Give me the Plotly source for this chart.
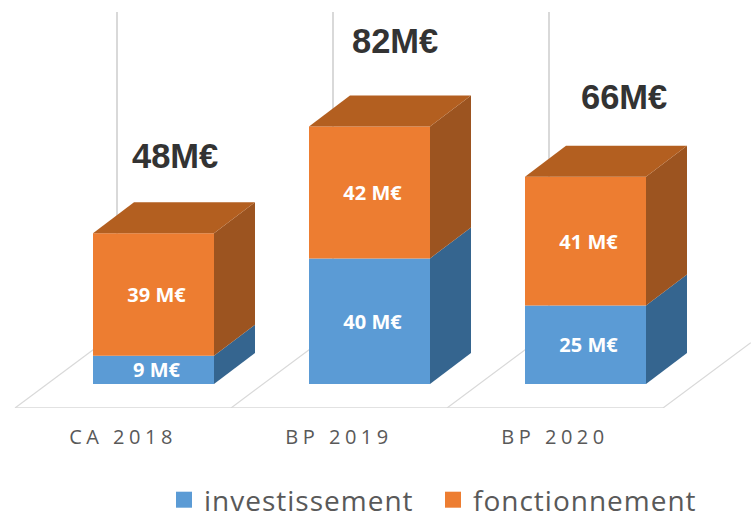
import plotly.graph_objects as go

categories = ["CA 2018", "BP 2019", "BP 2020"]
investissement = [9, 40, 25]
fonctionnement = [39, 42, 41]
totals = [48, 82, 66]

BLUE, BLUE_SIDE = "#5B9BD5", "#35658F"
ORANGE, ORANGE_SIDE, ORANGE_TOP = "#ED7D31", "#9C5420", "#B35F20"
GRID = "#D9D9D9"
TEXT = "#595959"

UX, UY = 216.0, 3.14              # pixels per category / per million
BAR_OFFSET, BAR_WIDTH = -30 / UX, 121 / UX
DX, DY = 41 / UX, 31 / UY         # oblique depth of the boxes
FLOOR_Y = -24 / UY
FLOOR_DX, FLOOR_DY = 102 / UX, 76 / UY
GRID_TOP = 372 / UY
LABEL_DX, LABEL_DY = 3 / UX, -2.5 / UY

fig = go.Figure()

for name, vals, bases, col in [
    ("investissement", investissement, [0, 0, 0], BLUE),
    ("fonctionnement", fonctionnement, investissement, ORANGE),
]:
    fig.add_trace(go.Bar(
        x=list(range(len(categories))), y=vals, base=bases, name=name,
        offset=BAR_OFFSET, width=BAR_WIDTH, marker=dict(color=col, line_width=0),
        showlegend=False, hoverinfo="skip",
    ))

def side(i, lo, hi, color):
    xr = i + BAR_OFFSET + BAR_WIDTH
    fig.add_trace(go.Scatter(
        x=[xr, xr + DX, xr + DX, xr, xr], y=[lo, lo + DY, hi + DY, hi, lo],
        mode="lines", fill="toself", fillcolor=color, line=dict(width=0),
        showlegend=False, hoverinfo="skip"))

for i in range(len(categories)):
    inv, fon = investissement[i], fonctionnement[i]
    side(i, 0, inv, BLUE_SIDE)
    side(i, inv, inv + fon, ORANGE_SIDE)
    xl, xr, t = i + BAR_OFFSET, i + BAR_OFFSET + BAR_WIDTH, inv + fon
    fig.add_trace(go.Scatter(
        x=[xl, xr, xr + DX, xl + DX, xl], y=[t, t, t + DY, t + DY, t],
        mode="lines", fill="toself", fillcolor=ORANGE_TOP, line=dict(width=0),
        showlegend=False, hoverinfo="skip"))

for vals, bases in [(investissement, [0, 0, 0]), (fonctionnement, investissement)]:
    fig.add_trace(go.Scatter(
        x=[i + BAR_OFFSET + BAR_WIDTH / 2 + LABEL_DX for i in range(len(categories))],
        y=[b + v / 2 + LABEL_DY for b, v in zip(bases, vals)],
        mode="text", text=[f"{v} M€" for v in vals], textposition="middle center",
        textfont=dict(family="Open Sans", size=20, color="white", weight=700),
        showlegend=False, hoverinfo="skip"))

for name, col in [("investissement", BLUE), ("fonctionnement", ORANGE)]:
    fig.add_trace(go.Scatter(x=[None], y=[None], mode="markers", name=name,
                             marker=dict(symbol="square", size=17, color=col)))

shapes = [dict(type="line", x0=-0.5, x1=len(categories) - 0.5, y0=FLOOR_Y, y1=FLOOR_Y,
               layer="below", line=dict(color=GRID, width=1.5))]
for i in range(len(categories) + 1):
    x0 = i - 0.5
    shapes.append(dict(type="line", x0=x0, x1=x0 + FLOOR_DX * (1 if i < 3 else 0.86),
                       y0=FLOOR_Y, y1=FLOOR_Y + FLOOR_DY * (1 if i < 3 else 0.86),
                       layer="below", line=dict(color=GRID, width=1.2)))
    if i < 3:
        shapes.append(dict(type="line", x0=x0 + FLOOR_DX, x1=x0 + FLOOR_DX,
                           y0=FLOOR_Y + FLOOR_DY, y1=GRID_TOP,
                           layer="below", line=dict(color=GRID, width=2)))

x_shift = [21, 25, 38]
y_shift = [77, 86, 80]
annotations = [dict(x=i + BAR_OFFSET + BAR_WIDTH / 2, y=t, text=f"{t}M€", showarrow=False,
                    xshift=x_shift[i], yshift=y_shift[i],
                    font=dict(family="Liberation Sans", size=34.5, color="#333333", weight=700))
               for i, t in enumerate(totals)]

fig.update_layout(
    width=751, height=512, margin=dict(l=0, r=0, t=0, b=104),
    paper_bgcolor="white", plot_bgcolor="white", barmode="overlay",
    xaxis=dict(range=[-123 / UX, 628 / UX], tickmode="array", tickvals=[0, 1, 2],
               ticktext=categories, showgrid=False, zeroline=False, showline=False,
               ticks="", ticklabelstandoff=15,
               tickfont=dict(family="Open Sans", size=20, color=TEXT)),
    yaxis=dict(range=[FLOOR_Y, 384 / UY], visible=False),
    shapes=shapes, annotations=annotations,
    legend=dict(orientation="h", xref="container", yref="container",
                x=164 / 751, y=1 - 475 / 512, xanchor="left", yanchor="top",
                entrywidth=224, entrywidthmode="pixels", itemwidth=30,
                font=dict(family="Open Sans", size=28, color=TEXT)),
)

post = """
document.documentElement.style.margin = '0';
document.documentElement.style.overflow = 'hidden';
document.body.style.margin = '0';
document.querySelectorAll('.xtick text').forEach(t => t.style.letterSpacing = '4.5px');
document.querySelectorAll('.legendtext').forEach(t => t.style.letterSpacing = '1px');
"""
fig.write_html("out.html", post_script=post, config=dict(displayModeBar=False))
